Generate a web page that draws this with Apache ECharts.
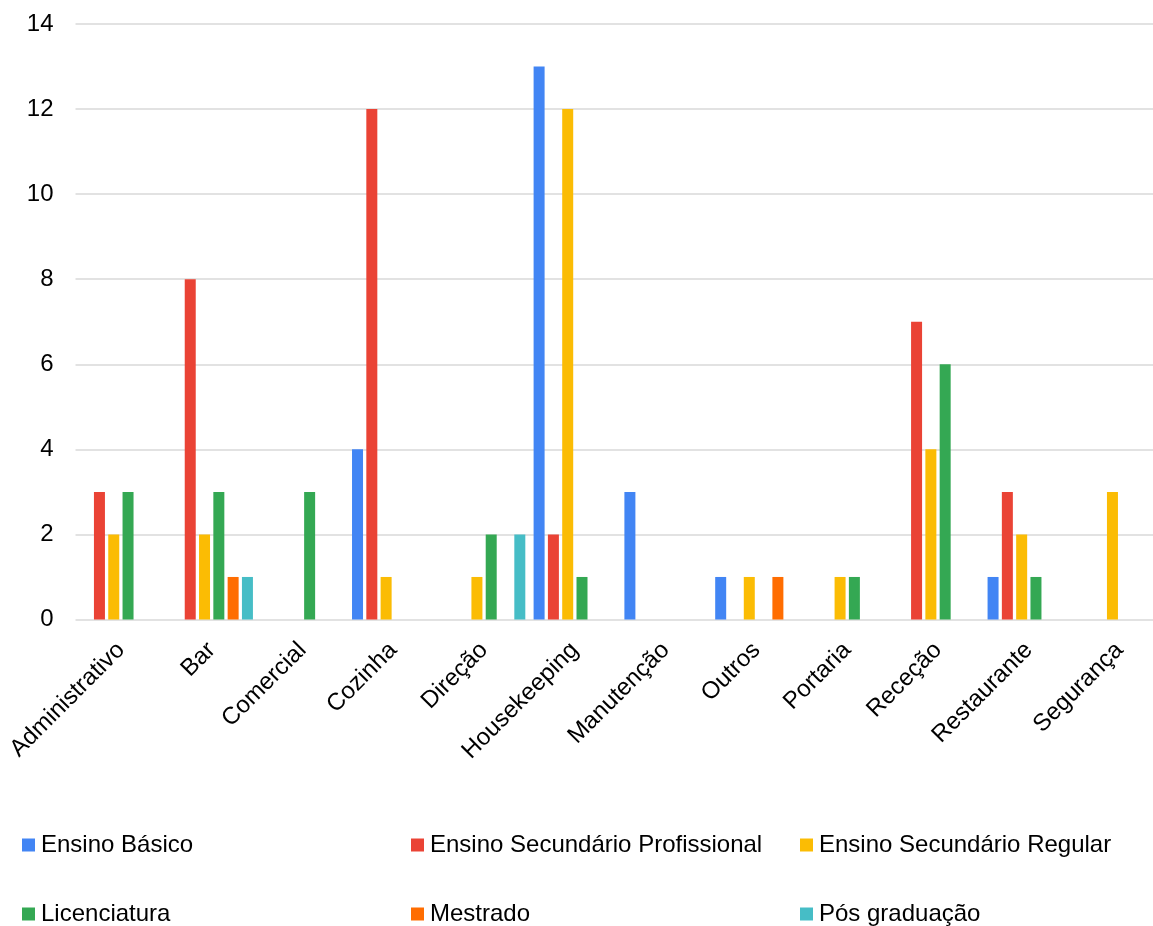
<!DOCTYPE html>
<html>
<head>
<meta charset="utf-8">
<title>Formação por departamento</title>
<script src="https://cdn.jsdelivr.net/npm/echarts@6/dist/echarts.min.js"></script>
<style>
  html, body { margin: 0; padding: 0; background: #ffffff; }
  #chart { width: 1153px; height: 926px; }
</style>
</head>
<body>
<div id="chart"></div>
<script>
// Departments along the x axis
const categories = ['Administrativo', 'Bar', 'Comercial', 'Cozinha', 'Direção', 'Housekeeping',
  'Manutenção', 'Outros', 'Portaria', 'Receção', 'Restaurante', 'Segurança'];

// Head counts per education level, one value per department
const ensinoBasico        = [0, 0, 0, 4, 0, 13, 3, 1, 0, 0, 1, 0];
const secundarioProf      = [3, 8, 0, 12, 0, 2, 0, 0, 0, 7, 3, 0];
const secundarioRegular   = [2, 2, 0, 1, 1, 12, 0, 1, 1, 4, 2, 3];
const licenciatura        = [3, 3, 3, 0, 2, 1, 0, 0, 1, 6, 1, 0];
const mestrado            = [0, 1, 0, 0, 0, 0, 0, 1, 0, 0, 0, 0];
const posGraduacao        = [0, 1, 0, 0, 2, 0, 0, 0, 0, 0, 0, 0];

const seriesNames = ['Ensino Básico', 'Ensino Secundário Profissional', 'Ensino Secundário Regular',
  'Licenciatura', 'Mestrado', 'Pós graduação'];
const seriesData = [ensinoBasico, secundarioProf, secundarioRegular, licenciatura, mestrado, posGraduacao];
const colors = ['#4285F4', '#EA4335', '#FBBC04', '#34A853', '#FF6D01', '#46BDC6'];

// Y axis range
const yMin = 0, yMax = 14, yStep = 2;

const FONT = 'Liberation Sans, Arial, Helvetica, sans-serif';
const FS = 24;

// Legend laid out as a 3 x 2 table
const legendCols = [22, 411, 800];
const legendRows = [833, 902];

const legends = seriesNames.map((name, i) => ({
  data: [name],
  left: legendCols[i % 3],
  top: legendRows[Math.floor(i / 3)],
  padding: 0,
  icon: 'rect',
  itemWidth: 13,
  itemHeight: 13,
  selectedMode: false,
  textStyle: { fontFamily: FONT, fontSize: FS, color: '#000', padding: [0, 0, 0, 1] }
}));

const chart = echarts.init(document.getElementById('chart'), null, { renderer: 'canvas' });

chart.setOption({
  animation: false,
  color: colors,
  textStyle: { fontFamily: FONT },
  grid: {
    left: 75.5,
    right: -12,
    top: 24,
    bottom: 306.5,
    containLabel: false,
    outerBoundsMode: 'none'
  },
  legend: legends,
  xAxis: {
    type: 'category',
    data: categories,
    axisLine: { show: false },
    axisTick: { show: false },
    axisLabel: {
      interval: 0,
      rotate: 45,
      margin: 27,
      fontFamily: FONT,
      fontSize: FS,
      color: '#000'
    }
  },
  yAxis: {
    type: 'value',
    min: yMin,
    max: yMax,
    interval: yStep,
    axisLine: { show: false },
    axisTick: { show: false },
    axisLabel: { margin: 22, fontFamily: FONT, fontSize: FS, color: '#000' },
    splitLine: { lineStyle: { color: '#d9d9d9', width: 1.5 } }
  },
  series: seriesNames.map((name, i) => ({
    name: name,
    type: 'bar',
    data: seriesData[i],
    barWidth: 11,
    barGap: '30%',
    itemStyle: { color: colors[i] }
  }))
});
</script>
</body>
</html>
